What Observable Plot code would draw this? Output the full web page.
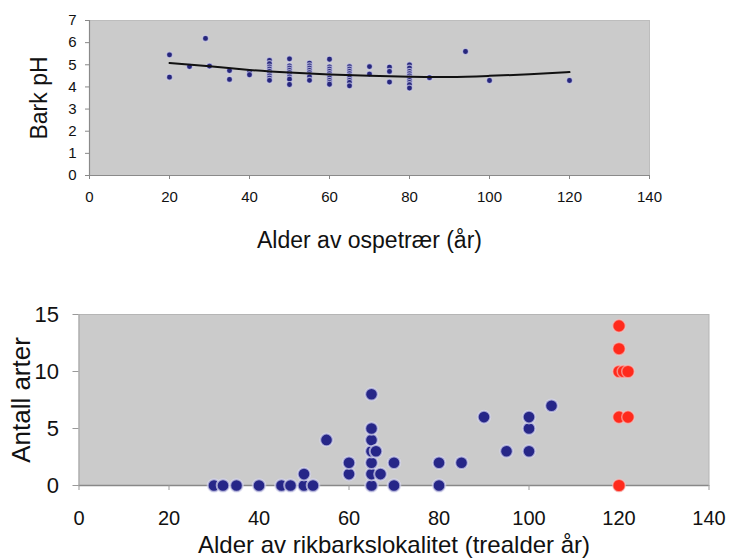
<!DOCTYPE html>
<html><head><meta charset="utf-8">
<script src="https://cdn.jsdelivr.net/npm/d3@7"></script>
<script src="https://cdn.jsdelivr.net/npm/@observablehq/plot@0.6"></script>
<style>
body{margin:0;background:#fff;}
#c{width:729px;height:559px;overflow:hidden;}
#c svg{display:block;}
</style>
</head><body><div id="c"></div>
<script>
// ---- Top chart: bark pH vs aspen age ----
const barkGroupAges = [20, 25, 29, 30, 35, 40, 45, 50, 55, 60, 65, 70, 75, 80, 85, 94, 100, 120];
const barkGroupPH = [
  [5.45, 4.44],
  [4.92],
  [6.19],
  [4.94],
  [4.74, 4.34],
  [4.67, 4.55],
  [5.2, 5.05, 4.9, 4.8, 4.7, 4.6, 4.5, 4.4, 4.3],
  [5.27, 4.95, 4.85, 4.75, 4.65, 4.55, 4.45, 4.35, 4.11],
  [5.07, 4.95, 4.85, 4.75, 4.65, 4.55, 4.45, 4.3],
  [5.25, 4.9, 4.8, 4.7, 4.6, 4.5, 4.4, 4.3, 4.2, 4.12],
  [4.92, 4.8, 4.7, 4.6, 4.5, 4.4, 4.3, 4.2, 4.05],
  [4.92, 4.58],
  [4.89, 4.7, 4.22],
  [5.0, 4.85, 4.7, 4.6, 4.5, 4.4, 4.3, 4.2, 4.1, 3.95],
  [4.42],
  [5.6],
  [4.29],
  [4.29]
];
const trendAges = [20, 30, 40, 50, 60, 70, 80, 90, 100, 110, 120];
const trendPH = [5.08, 4.93, 4.77, 4.65, 4.56, 4.5, 4.46, 4.45, 4.5, 4.57, 4.67];
const topXTicks = [0, 20, 40, 60, 80, 100, 120, 140];
const topYTicks = [0, 1, 2, 3, 4, 5, 6, 7];

// ---- Bottom chart: number of species vs site age ----
const siteAges =    [30, 32, 35, 40, 45, 47, 50, 52, 50, 55, 60, 60, 65, 65, 65, 65, 65, 65, 65, 66, 67, 70, 70, 80, 80, 85, 90, 95, 100, 100, 100, 105];
const siteSpecies = [ 0,  0,  0,  0,  0,  0,  0,  0,  1,  4,  1,  2,  0,  1,  2,  3,  4,  5,  8,  3,  1,  0,  2,  0,  2,  2,  6,  3,   3,   5,   6,   7];
const oldAges =    [120, 120, 120, 121, 122, 120, 122, 120];
const oldSpecies = [ 14,  12,  10,  10,  10,   6,   6,   0];
const botXTicks = [0, 20, 40, 60, 80, 100, 120, 140];
const botYTicks = [0, 5, 10, 15];

const topTitleX = "Alder av ospetrær (år)";
const topTitleY = "Bark pH";
const botTitleX = "Alder av rikbarkslokalitet (trealder år)";
const botTitleY = "Antall arter";

const FONT = "'Liberation Sans', Arial, Helvetica, sans-serif";

const barkData = barkGroupAges.flatMap((a, i) => barkGroupPH[i].map(v => ({age: a, ph: v})));
const trendData = trendAges.map((a, i) => ({age: a, ph: trendPH[i]}));
const siteData = siteAges.map((a, i) => ({age: a, n: siteSpecies[i]}));
const oldData = oldAges.map((a, i) => ({age: a, n: oldSpecies[i]}));

const topPlot = Plot.plot({
  width: 729, height: 260,
  marginLeft: 89, marginRight: 80, marginTop: 20, marginBottom: 85,
  style: {fontFamily: FONT, background: "white", color: "#111", overflow: "visible"},
  x: {domain: [0, 140]},
  y: {domain: [0, 7]},
  marks: [
    Plot.frame({fill: "#cbcbcb", stroke: "#bdbdbd"}),
    Plot.ruleY([0], {stroke: "#8a8a8a", strokeWidth: 1.2}),
    Plot.ruleX([0], {stroke: "#8a8a8a", strokeWidth: 1.2}),
    Plot.axisX({ticks: topXTicks, tickFormat: d => String(d), tickSize: 4, tickPadding: 12, fontSize: 15, stroke: "#888", label: null}),
    Plot.axisY({ticks: topYTicks, tickFormat: d => String(d), tickSize: 4, tickPadding: 9, fontSize: 15, stroke: "#888", label: null}),
    Plot.dot(barkData, {x: "age", y: "ph", r: 3, fill: "#26267c", stroke: "#d6d6ec", strokeWidth: 1.2, strokeOpacity: 0.7}),
    Plot.line(trendData, {x: "age", y: "ph", stroke: "#111", strokeWidth: 2, curve: "natural"}),
    Plot.text([topTitleX], {frameAnchor: "bottom", lineAnchor: "middle", textAnchor: "middle", dy: 65, fontSize: 23, fill: "#111"}),
    Plot.text([topTitleY], {frameAnchor: "left", lineAnchor: "middle", textAnchor: "middle", dx: -50, rotate: -90, fontSize: 23, fill: "#111"})
  ]
});

const botPlot = Plot.plot({
  width: 729, height: 299,
  marginLeft: 78.5, marginRight: 20.5, marginTop: 54, marginBottom: 74,
  style: {fontFamily: FONT, background: "white", color: "#111", overflow: "visible"},
  x: {domain: [0, 140]},
  y: {domain: [0, 15]},
  marks: [
    Plot.frame({fill: "#cbcbcb", stroke: "#b5b5b5"}),
    Plot.ruleY([0], {stroke: "#888", strokeWidth: 1.3}),
    Plot.ruleX([0], {stroke: "#aaa"}),
    Plot.axisX({ticks: botXTicks, tickFormat: d => String(d), tickSize: 5, tickPadding: 20, fontSize: 20, stroke: "#999", label: null}),
    Plot.axisY({ticks: botYTicks, tickFormat: d => String(d), tickSize: 6, tickPadding: 14, fontSize: 22, stroke: "#999", label: null}),
    Plot.dot(siteData, {x: "age", y: "n", r: 6.3, fill: "#262688", stroke: "#dadaf0", strokeWidth: 2, strokeOpacity: 0.7}),
    Plot.dot(oldData, {x: "age", y: "n", r: 6.3, fill: "#ff2a1c", stroke: "#f4c8c8", strokeWidth: 1.5, strokeOpacity: 0.6}),
    Plot.text([botTitleX], {frameAnchor: "bottom", lineAnchor: "middle", textAnchor: "middle", dy: 60, fontSize: 24, fill: "#111"}),
    Plot.text([botTitleY], {frameAnchor: "left", lineAnchor: "middle", textAnchor: "middle", dx: -57, rotate: -90, fontSize: 26, fill: "#111"})
  ]
});

const c = document.getElementById("c");
c.appendChild(topPlot);
c.appendChild(botPlot);
</script>
</body></html>
